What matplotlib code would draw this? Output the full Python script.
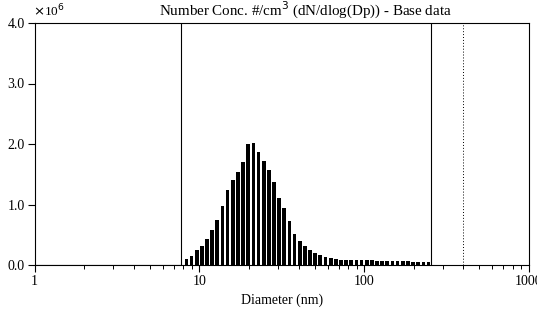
import numpy as np
import matplotlib
matplotlib.use("Agg")
import matplotlib.pyplot as plt
from matplotlib.ticker import FixedLocator, LogLocator, NullFormatter

plt.rcParams['font.family'] = ['Liberation Serif', 'DejaVu Serif']

# channel midpoint diameters (nm), 32 channels per decade starting ~8.35 nm
first_diam = 8.35
n_per_decade = 32
conc = [0.10, 0.15, 0.25, 0.32, 0.43, 0.58, 0.74, 0.97, 1.24, 1.40, 1.54, 1.71,
        2.00, 2.01, 1.86, 1.72, 1.57, 1.38, 1.11, 0.94, 0.73, 0.52, 0.39, 0.31,
        0.25, 0.20, 0.16, 0.14, 0.11, 0.10, 0.09, 0.085,
        0.085, 0.08, 0.08, 0.075, 0.075, 0.07, 0.07, 0.065, 0.065, 0.06, 0.06,
        0.06, 0.055, 0.055, 0.05, 0.05]  # x10^6 #/cm3
diam = first_diam * 10 ** (np.arange(len(conc)) / n_per_decade)

lower_bound = 7.77
upper_bound = 253.0
dotted_line = 400.0

fig = plt.figure(figsize=(5.37, 3.11), dpi=100)
ax = fig.add_axes([34.5/537, 46/311, (529-34.5)/537, (265-23)/311])

half = 0.72 / n_per_decade / 2
left = diam * 10 ** (-half)
width = diam * 10 ** half - left
ax.bar(left, conc, width=width, align='edge', color='black', edgecolor='none')

ax.plot([1, lower_bound], [0.003, 0.003], color='black', lw=0.8)
ax.axvline(lower_bound, color='black', lw=0.8)
ax.axvline(upper_bound, color='black', lw=0.8)
ax.axvline(dotted_line, color='black', lw=0.7, ls=(0, (1, 2)))

ax.set_xscale('log')
ax.set_xlim(1, 1000)
ax.set_ylim(0, 4.0)
ax.xaxis.set_major_locator(FixedLocator([1, 10, 100, 1000]))
ax.set_xticklabels(['1', '10', '100', '1000'])
ax.xaxis.set_minor_locator(LogLocator(base=10, subs=np.arange(2, 10)))
ax.xaxis.set_minor_formatter(NullFormatter())
ax.set_yticks([0, 1, 2, 3, 4])
ax.set_yticklabels(['0.0', '1.0', '2.0', '3.0', '4.0'])
ax.tick_params(axis='both', which='major', direction='out', length=5, width=0.8,
               labelsize=10, pad=2)
ax.tick_params(axis='x', which='minor', direction='out', length=3, width=0.7)
for s in ax.spines.values():
    s.set_linewidth(0.8)

ax.set_xlabel('Diameter (nm)', fontsize=10, labelpad=4)
fig.text(305.5/537, 1 - 16/311, 'Number Conc. #/cm$^3$ (dN/dlog(Dp)) - Base data',
         ha='center', va='baseline', fontsize=10.8)
fig.text(33/537, 1 - 16/311, '$\\times$10$^6$', ha='left',
         va='baseline', fontsize=9.5)

fig.savefig('out.png', dpi=100)
